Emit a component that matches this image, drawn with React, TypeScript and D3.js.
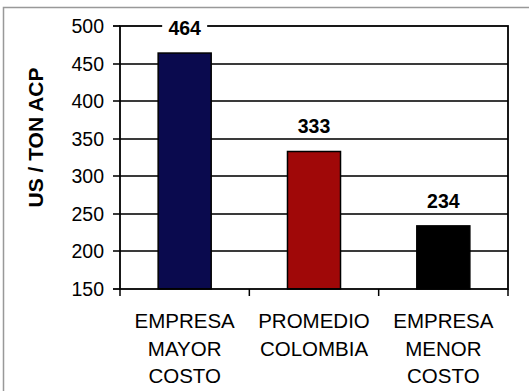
import React from "react";
import * as d3 from "d3";

const categories: string[][] = [
  ["EMPRESA", "MAYOR", "COSTO"],
  ["PROMEDIO", "COLOMBIA"],
  ["EMPRESA", "MENOR", "COSTO"],
];
const values: number[] = [464, 333, 234];
const barColors: string[] = ["#0a0a4e", "#a00808", "#000000"];
const yTicks: number[] = [150, 200, 250, 300, 350, 400, 450, 500];
const yTitle = "US / TON ACP";

export default function App() {
  const W = 529, H = 391;
  const left = 120, right = 508, top = 26, bottom = 289;
  const keys = categories.map((_, i) => String(i));
  const x = d3.scaleBand<string>().domain(keys).range([left, right]).paddingInner(0.59).paddingOuter(0.295);
  const y = d3.scaleLinear().domain([150, 500]).range([bottom, top]);
  const step = x.step();
  const font = "'Liberation Sans', Arial, Helvetica, sans-serif";
  const boundaries = d3.range(keys.length + 1).map((i) => left + i * step);
  const gridTicks = yTicks.filter((t) => t > 150 && t < 500);

  return (
    <svg width={W} height={H} style={{ position: "absolute", left: 0, top: 0, background: "#fff" }}>
      <rect x={3.5} y={7.5} width={560} height={420} fill="#fff" stroke="#999" strokeWidth={1.5} />
      {gridTicks.map((t) => (
        <line key={"g" + t} x1={left - 7} x2={right} y1={Math.round(y(t))} y2={Math.round(y(t))} stroke="#3a3a3a" strokeWidth={2} />
      ))}
      {values.map((v, i) => (
        <rect key={i} x={x(keys[i])!} y={y(v)} width={x.bandwidth()} height={bottom - y(v)}
          fill={barColors[i]} stroke="#000" strokeWidth={1.5} />
      ))}
      <rect x={left} y={top} width={right - left} height={bottom - top} fill="none" stroke="#000" strokeWidth={1.8} />
      <line x1={left - 7} x2={left} y1={top} y2={top} stroke="#000" strokeWidth={1.8} />
      <line x1={left - 7} x2={left} y1={bottom} y2={bottom} stroke="#000" strokeWidth={1.8} />
      {yTicks.map((t) => (
        <text key={t} x={104} y={y(t)} textAnchor="end" dominantBaseline="central" fontFamily={font} fontSize={19.5} fill="#000">{t}</text>
      ))}
      {boundaries.map((bx, i) => (
        <line key={i} x1={bx} x2={bx} y1={bottom} y2={bottom + 7} stroke="#000" strokeWidth={1.5} />
      ))}
      {values.map((v, i) => {
        const cx = x(keys[i])! + x.bandwidth() / 2;
        const cy = y(v) - 25;
        return (
          <g key={i}>
            <rect x={cx - 22.5} y={cy - 11} width={45} height={22} fill="#fff" />
            <text x={cx} y={cy} textAnchor="middle" dominantBaseline="central" fontFamily={font} fontSize={19.5} fontWeight="bold" fill="#000">{v}</text>
          </g>
        );
      })}
      {categories.map((lines, i) => {
        const cx = x(keys[i])! + x.bandwidth() / 2;
        return (
          <text key={i} textAnchor="middle" fontFamily={font} fontSize={20.5} fill="#000">
            {lines.map((l, j) => (
              <tspan key={j} x={cx} y={328 + j * 27.5}>{l}</tspan>
            ))}
          </text>
        );
      })}
      <text transform={`translate(35,137.5) rotate(-90)`} textAnchor="middle" dominantBaseline="central"
        fontFamily={font} fontSize={21} fontWeight="bold" fill="#000">{yTitle}</text>
    </svg>
  );
}
